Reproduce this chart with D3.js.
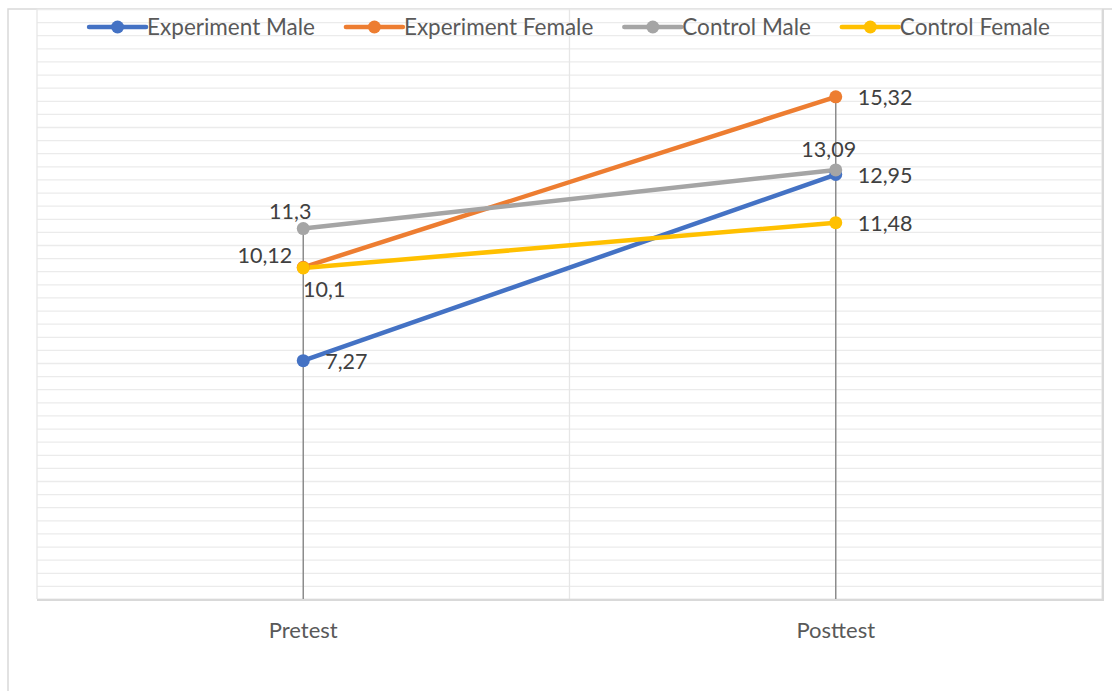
<!DOCTYPE html>
<html><head><meta charset="utf-8">
<script src="https://cdn.jsdelivr.net/npm/d3@7"></script>
<style>body{margin:0;background:#fff;} svg{display:block;font-family:Lato, "Open Sans", sans-serif;}</style>
</head><body>
<svg id="c" width="1112" height="691"></svg>
<script>
const categories = ["Pretest", "Posttest"];
const seriesNames = ["Experiment Male", "Experiment Female", "Control Male", "Control Female"];
const experimentMale = [7.27, 12.95];
const experimentFemale = [10.12, 15.32];
const controlMale = [11.3, 13.09];
const controlFemale = [10.1, 11.48];
const seriesColors = ["#4472C4", "#ED7D31", "#A5A5A5", "#FFC000"];
const labelPos = [["right","right"],["left","right"],["above","above"],["below","right"]];
const yMin = 0, yMax = 18, gridStep = 0.4;

const series = [experimentMale, experimentFemale, controlMale, controlFemale];
const svg = d3.select("#c");
const L = 37, R = 1102, T = 9, B = 599;
const x = d3.scaleBand().domain(categories).range([L, R]);
const cx = c => x(c) + x.bandwidth() / 2;
const y = d3.scaleLinear().domain([yMin, yMax]).range([B, T]);

// chart area border
svg.append("path").attr("d", `M8,691V9H1112`).attr("fill","none").attr("stroke","#d9d9d9").attr("stroke-width",1.5);

// horizontal gridlines
const gridVals = d3.range(0, Math.round((yMax - yMin) / gridStep) + 1).map(i => yMin + i * gridStep);
const gy = svg.append("g").attr("transform", `translate(${L},0)`)
  .call(d3.axisLeft(y).tickValues(gridVals).tickSize(-(R - L)).tickFormat(""));
gy.select(".domain").remove();
gy.selectAll("line").attr("stroke", "#ebebeb").attr("stroke-width", 1.3);

// vertical gridlines (category boundaries)
svg.append("g").selectAll("line").data([L, L + x.bandwidth(), R]).join("line")
  .attr("x1", d => d).attr("x2", d => d).attr("y1", T).attr("y2", B)
  .attr("stroke", "#e6e6e6").attr("stroke-width", 1.3);
// plot shadow right/bottom
svg.append("path").attr("d", `M${R+1},${T}V${B+1}H${L}`).attr("fill","none").attr("stroke","#d9d9d9").attr("stroke-width",2);

// x axis labels
const gx = svg.append("g").attr("transform", `translate(0,${B})`)
  .call(d3.axisBottom(x).tickSize(0).tickPadding(23));
gx.select(".domain").attr("stroke", "#d9d9d9").attr("stroke-width", 1.3);
gx.selectAll("text").attr("font-size", 22).attr("fill", "#595959").attr("font-family", "Lato");

// drop lines
categories.forEach((c, i) => {
  const mx = d3.max(series, s => s[i]);
  svg.append("line").attr("x1", cx(c)).attr("x2", cx(c)).attr("y1", y(mx)).attr("y2", B)
    .attr("stroke", "#8c8c8c").attr("stroke-width", 1.5);
});

// lines and markers
const line = d3.line().x((d, i) => cx(categories[i])).y(d => y(d));
series.forEach((s, k) => {
  svg.append("path").datum(s).attr("d", line).attr("fill", "none")
    .attr("stroke", seriesColors[k]).attr("stroke-width", 4.5).attr("stroke-linecap", "round");
});
series.forEach((s, k) => {
  svg.append("g").selectAll("circle").data(s).join("circle")
    .attr("cx", (d, i) => cx(categories[i])).attr("cy", d => y(d)).attr("r", 6.5)
    .attr("fill", seriesColors[k]);
});

// data labels
const fmt = v => String(v).replace(".", ",");
series.forEach((s, k) => {
  s.forEach((v, i) => {
    const px = cx(categories[i]), py = y(v), pos = labelPos[k][i];
    let tx = px, ty = py, anchor = "middle";
    if (pos === "right") { tx = px + 22; anchor = "start"; ty = py + 8; }
    if (pos === "left") { tx = px - 11; anchor = "end"; ty = py - 4; }
    if (pos === "above") { tx = px - 13; ty = py - 10; }
    if (pos === "below") { tx = px + 21; ty = py + 29; }
    if (pos === "above" && i === 1) { tx = px - 7; ty = py - 13; }
    svg.append("text").attr("x", tx).attr("y", ty).attr("text-anchor", anchor)
      .attr("font-size", 21.5).attr("fill", "#404040").text(fmt(v));
  });
});

// legend
const lg = svg.append("g");
const items = seriesNames.map((n, k) => {
  const g = lg.append("g");
  g.append("line").attr("x1", 0).attr("x2", 57).attr("y1", 0).attr("y2", 0)
    .attr("stroke", seriesColors[k]).attr("stroke-width", 4.5).attr("stroke-linecap", "round");
  g.append("circle").attr("cx", 28.5).attr("cy", 0).attr("r", 6.5).attr("fill", seriesColors[k]);
  const t = g.append("text").attr("x", 58).attr("y", 8).attr("font-size", 22.5).attr("fill", "#595959").text(n);
  return { g, w: 58 + t.node().getComputedTextLength() };
});
const gap = 31;
const total = d3.sum(items, d => d.w) + gap * (items.length - 1);
let lx = (L + R) / 2 - total / 2;
items.forEach(it => { it.g.attr("transform", `translate(${lx},27)`); lx += it.w + gap; });
</script>
</body></html>
